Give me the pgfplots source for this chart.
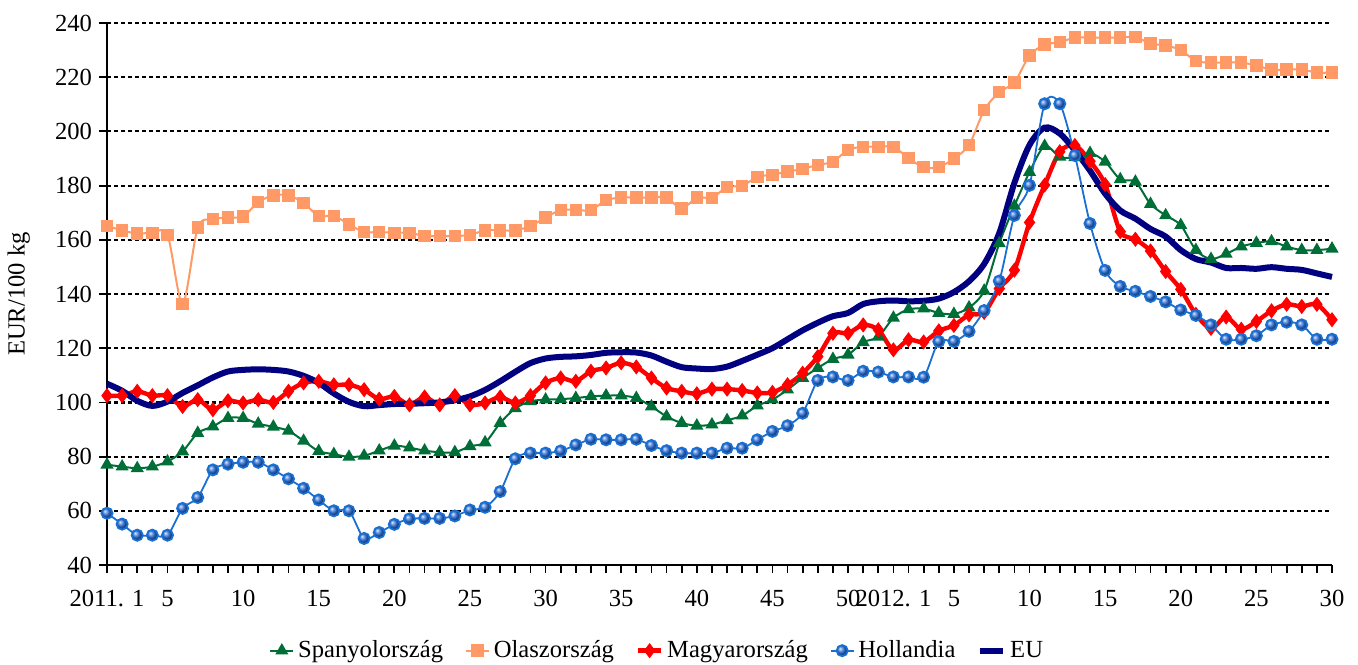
\documentclass[border=0pt]{standalone}
\usepackage{fontspec}
\setmainfont{Liberation Serif}
\usepackage{pgfplots}
\usepackage{pgfplotstable}
\pgfplotsset{compat=1.18}
\definecolor{cGreen}{RGB}{0,110,55}
\definecolor{cOrange}{RGB}{255,153,102}
\definecolor{cRed}{RGB}{255,0,0}
\definecolor{cBlue}{RGB}{25,112,210}
\definecolor{cBall}{RGB}{45,115,225}
\definecolor{cNavy}{RGB}{0,0,128}
\pgfplotstableread{
i S O M H E
0 77.0 165.1 102.5 59.1 106.9
1 76.3 163.5 102.5 55.1 104.3
2 75.7 162.3 104.1 51.0 100.6
3 76.3 162.6 102.5 51.0 98.7
4 78.2 161.8 102.5 51.0 100.3
5 81.9 136.4 98.5 60.9 103.5
6 88.7 164.5 101.0 64.9 106.3
7 91.1 167.6 97.3 75.1 109.2
8 94.2 168.2 100.6 77.2 111.4
9 94.2 168.6 99.8 77.9 112.0
10 92.1 173.9 101.0 77.9 112.2
11 91.0 176.4 100.0 75.1 112.0
12 89.5 176.4 104.1 71.8 111.4
13 85.8 173.6 107.2 68.3 109.8
14 82.0 168.8 107.8 64.0 107.2
15 80.9 168.8 106.5 60.0 103.3
16 79.9 165.7 106.5 60.0 100.2
17 80.3 162.9 104.7 49.8 98.6
18 82.2 162.9 101.2 52.0 99.0
19 84.0 162.6 102.2 55.0 99.4
20 83.3 162.6 99.1 57.0 99.5
21 82.2 161.4 102.0 57.2 99.7
22 81.6 161.4 99.1 57.2 100.0
23 81.6 161.4 102.5 58.1 100.8
24 83.8 161.8 99.1 60.3 102.2
25 85.2 163.5 99.8 61.3 104.6
26 92.4 163.5 102.0 67.1 107.8
27 97.8 163.5 99.8 79.2 111.3
28 100.4 165.1 102.5 81.3 114.5
29 101.0 168.2 107.2 81.3 116.2
30 101.2 171.0 109.0 82.1 116.8
31 101.6 171.0 107.8 84.3 117.0
32 102.2 171.0 111.5 86.4 117.5
33 102.5 174.6 112.7 86.2 118.3
34 102.5 175.6 114.6 86.2 118.5
35 101.6 175.6 113.1 86.4 118.4
36 98.5 175.6 109.0 84.1 117.3
37 94.8 175.6 105.3 82.2 115.0
38 92.4 171.5 104.1 81.3 113.0
39 91.4 175.6 103.2 81.3 112.5
40 91.8 175.5 104.9 81.3 112.3
41 93.4 179.5 104.9 83.1 113.2
42 95.1 179.9 104.4 83.1 115.3
43 98.8 183.2 103.5 86.2 117.6
44 101.0 184.0 103.7 89.3 120.0
45 104.7 185.2 106.5 91.4 123.3
46 109.0 186.1 110.8 96.0 126.6
47 112.7 187.7 116.9 108.1 129.4
48 116.0 188.8 125.5 109.4 131.8
49 117.6 193.2 125.5 108.1 133.0
50 122.2 194.3 128.6 111.5 136.3
51 124.2 194.3 126.8 111.2 137.3
52 131.2 194.3 119.4 109.4 137.6
53 134.3 190.1 123.1 109.4 137.3
54 134.6 186.8 122.3 109.3 137.5
55 133.0 186.8 126.4 122.5 138.3
56 132.6 190.0 128.4 122.5 140.7
57 135.0 195.0 132.3 126.2 144.7
58 141.2 207.8 133.2 133.9 151.1
59 158.7 214.5 142.0 144.8 162.5
60 172.5 218.1 148.8 169.0 181.0
61 185.0 228.0 166.4 180.1 195.0
62 194.6 232.0 180.2 210.2 201.4
63 190.6 232.9 192.5 210.2 199.2
64 190.4 234.6 194.8 191.1 193.0
65 192.0 234.6 189.0 166.0 185.5
66 188.8 234.6 180.4 148.7 177.0
67 182.3 234.6 163.0 142.8 170.8
68 181.4 234.8 160.2 141.0 167.8
69 173.2 232.4 155.9 139.1 164.0
70 169.0 231.7 148.3 137.1 161.2
71 165.4 230.0 141.7 134.1 156.2
72 156.2 226.0 132.5 132.1 152.9
73 152.9 225.4 127.3 128.6 151.6
74 154.8 225.4 131.5 123.3 149.6
75 157.5 225.4 127.0 123.3 149.6
76 158.8 224.3 129.9 124.6 149.3
77 159.4 222.8 133.8 128.6 149.9
78 157.5 222.8 136.2 129.6 149.3
79 156.2 222.8 135.4 128.6 148.9
80 156.2 221.7 136.2 123.3 147.6
81 156.7 221.7 130.5 123.3 146.3
}\data
\begin{document}
\begin{tikzpicture}
\useasboundingbox (-53.5pt,-49.5pt) rectangle (625.5pt,282.5pt);
\begin{axis}[
  at={(0,0)}, anchor=south west,
  scale only axis, width=612.5pt, height=271pt,
  xmin=0, xmax=81, ymin=40, ymax=240,
  axis x line*=bottom, axis y line*=left,
  x axis line style={line width=1.4pt},
  y axis line style={line width=1pt},
  tick align=outside,
  major tick length=4pt, minor tick length=4pt,
  every tick/.style={black, line width=0.9pt},
  xtick={0,4,9,14,19,24,29,34,39,44,49,52,56,61,66,71,76,81},
  xticklabels={2011. 1,5,10,15,20,25,30,35,40,45,50,2012. 1,5,10,15,20,25,30},
  minor xtick={0,...,81},
  ytick={40,60,...,240},
  ymajorgrids,
  major grid style={black, line width=1.1pt, dash pattern=on 2pt off 1.5pt},
  /pgf/number format/assume math mode=true,
  tick label style={font=\fontsize{12.3}{14}\selectfont},
  xticklabel style={yshift=-5pt},
  ylabel={EUR/100 kg},
  every axis y label/.style={at={(axis description cs:-0.072,0.5)}, rotate=90, anchor=center, font=\fontsize{12.3}{14}\selectfont},
  clip=false,
  legend columns=-1,
  legend style={at={(axis description cs:0.45,-0.158)}, anchor=center, draw=none,
    font=\fontsize{12.3}{14}\selectfont, inner sep=0pt,
    /tikz/every even column/.append style={column sep=9pt}},
  legend image code/.code={\draw[mark repeat=2,mark phase=2] plot coordinates {(0cm,0cm) (0.2cm,0cm) (0.4cm,0cm)};},
  every axis plot/.append style={smooth, tension=0.5},
]
\addplot[cGreen, line width=1pt, mark=triangle*, mark size=2.8pt, mark options={solid, fill=cGreen}] table[x=i, y=S] {\data};
\addlegendentry{Spanyolország}
\addplot[cOrange, line width=1pt, mark=square*, mark size=2.6pt, mark options={solid, fill=cOrange}] table[x=i, y=O] {\data};
\addlegendentry{Olaszország}
\addplot[cRed, line width=2.2pt, mark=diamond*, mark size=3.4pt, mark options={solid, fill=cRed, line width=0.5pt}] table[x=i, y=M] {\data};
\addlegendentry{Magyarország}
\addplot[cNavy, line width=3pt, forget plot] table[x=i, y=E] {\data};
\addplot[cBlue, line width=0.9pt, mark=ball, mark size=2.8pt, mark options={ball color=cBall}] table[x=i, y=H] {\data};
\addlegendentry{Hollandia}
\addlegendimage{cNavy, line width=3pt}
\addlegendentry{EU}
\end{axis}
\end{tikzpicture}
\end{document}
